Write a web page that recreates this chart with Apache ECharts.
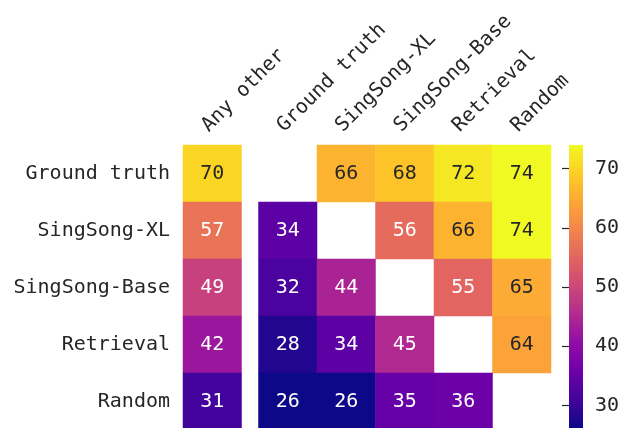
<!DOCTYPE html>
<html>
<head>
<meta charset="utf-8">
<script src="https://cdn.jsdelivr.net/npm/echarts@6/dist/echarts.min.js"></script>
<style>html,body{margin:0;padding:0;background:#fff}#c{width:624px;height:428px}</style>
</head>
<body>
<div id="c"></div>
<script>
const rowLabels = ['Ground truth', 'SingSong-XL', 'SingSong-Base', 'Retrieval', 'Random'];
const colLabels = ['Ground truth', 'SingSong-XL', 'SingSong-Base', 'Retrieval', 'Random'];
const anyOtherLabel = ['Any other'];
const anyOtherValues = [70, 57, 49, 42, 31];
const rowGroundTruth = [null, 66, 68, 72, 74];
const rowSingSongXL = [34, null, 56, 66, 74];
const rowSingSongBase = [32, 44, null, 55, 65];
const rowRetrieval = [28, 34, 45, null, 64];
const rowRandom = [26, 26, 35, 36, null];
const colorbarTicks = [30, 40, 50, 60, 70];
const vmin = 26, vmax = 74;

const matrix = [rowGroundTruth, rowSingSongXL, rowSingSongBase, rowRetrieval, rowRandom];
const plasma = ['#0d0887','#41049d','#6a00a8','#8f0da4','#b12a90','#cc4778','#e16462','#f2844b','#fca636','#fcce25','#f0f921'];
const FONT = 'DejaVu Sans Mono';
const TXT = '#262626';

function cellItem(c, r, v) {
  return { value: [c, r, v], label: { color: v >= 60 ? TXT : '#ffffff' } };
}
const anyData = anyOtherValues.map((v, r) => cellItem(0, r, v));
const mainData = [];
matrix.forEach((row, r) => row.forEach((v, c) => { if (v !== null) mainData.push(cellItem(c, r, v)); }));

const chart = echarts.init(document.getElementById('c'), null, { renderer: 'canvas' });
const xCommon = {
  type: 'category', position: 'top',
  axisLine: { show: false }, axisTick: { show: false }, splitLine: { show: false },
  axisLabel: { rotate: -45, fontSize: 20, fontFamily: FONT, color: TXT, margin: 9, interval: 0,
               align: 'left', verticalAlign: 'bottom' }
};
const cbTop = 145, cbH = 284;
const gradStops = plasma.map((c, i) => ({ offset: 1 - i / (plasma.length - 1), color: c }));
chart.setOption({
  animation: false,
  grid: [
    { left: 183, top: 145, width: 58.5, height: 285, outerBoundsMode: 'none', containLabel: false },
    { left: 258.5, top: 145, width: 292.5, height: 285, outerBoundsMode: 'none', containLabel: false },
    { left: 569, top: cbTop, width: 14, height: cbH, outerBoundsMode: 'none', containLabel: false }
  ],
  xAxis: [
    Object.assign({ gridIndex: 0, data: anyOtherLabel }, xCommon),
    Object.assign({ gridIndex: 1, data: colLabels }, xCommon),
    { gridIndex: 2, type: 'value', show: false, min: 0, max: 1 }
  ],
  yAxis: [
    { gridIndex: 0, type: 'category', data: rowLabels, inverse: true,
      axisLine: { show: false }, axisTick: { show: false }, splitLine: { show: false },
      axisLabel: { fontSize: 20, fontFamily: FONT, color: TXT, margin: 13 } },
    { gridIndex: 1, type: 'category', data: rowLabels, inverse: true, show: false },
    { gridIndex: 2, type: 'value', position: 'right', min: vmin, max: vmax,
      axisLine: { show: false }, splitLine: { show: false },
      axisTick: { show: true, inside: true, length: 7, lineStyle: { color: TXT, width: 1.2 }, customValues: colorbarTicks },
      axisLabel: { fontSize: 20, fontFamily: FONT, color: TXT, margin: 12, customValues: colorbarTicks } }
  ],
  visualMap: {
    type: 'continuous', min: vmin, max: vmax, show: false, seriesIndex: [0, 1],
    inRange: { color: plasma }
  },
  series: [
    { type: 'heatmap', xAxisIndex: 0, yAxisIndex: 0, data: anyData,
      label: { show: true, fontSize: 20, fontFamily: FONT, formatter: p => p.value[2] },
      emphasis: { disabled: true } },
    { type: 'heatmap', xAxisIndex: 1, yAxisIndex: 1, data: mainData,
      label: { show: true, fontSize: 20, fontFamily: FONT, formatter: p => p.value[2] },
      emphasis: { disabled: true } },
    { type: 'scatter', xAxisIndex: 2, yAxisIndex: 2, data: [] }
  ],
  graphic: [
    { type: 'rect', left: 569, top: cbTop, z: -1,
      shape: { width: 14, height: cbH },
      style: { fill: new echarts.graphic.LinearGradient(0, 0, 0, 1, gradStops) } }
  ]
});
</script>
</body>
</html>
